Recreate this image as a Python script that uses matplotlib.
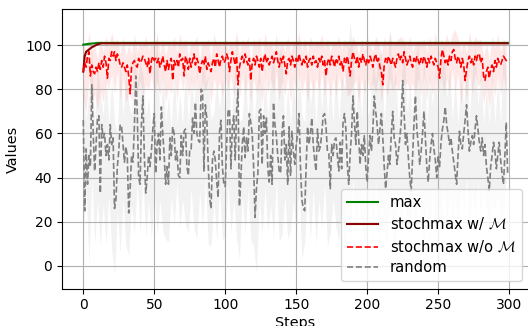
import matplotlib
matplotlib.use("Agg")
import matplotlib.pyplot as plt
import numpy as np

N_STEPS = 300
BAND_EVERY = 2

MAX_HEAD = [100.2, 100.3, 100.4, 100.5, 100.6, 100.6, 100.7, 100.8, 100.8, 100.9]
MAX_PLATEAU = 101.0

WITH_MEM_HEAD = [88, 95, 97, 97.5, 98, 98.5, 99, 99.3, 99.7, 100, 100.3, 100.5, 100.7]
WITH_MEM_PLATEAU = 100.8

WITHOUT_MEM = [
    88, 92, 90, 95, 97, 86, 91, 88, 87, 90, 88, 92, 89, 93, 90, 95, 92, 85, 94, 93,
    97, 95, 97, 93, 96, 94, 91, 90, 92, 90, 88, 91, 86, 78, 90, 92, 93, 91, 90, 94,
    92, 93, 95, 94, 92, 90, 94, 87, 93, 95, 93, 94, 92, 94, 90, 92, 95, 91, 88, 93,
    89, 92, 94, 84, 93, 91, 93, 90, 96, 93, 94, 86, 95, 93, 89, 94, 90, 93, 96, 91,
    94, 92, 87, 91, 93, 91, 95, 89, 92, 90, 88, 92, 94, 90, 96, 93, 90, 94, 95, 92,
    93, 96, 94, 88, 93, 97, 94, 91, 95, 82, 90, 93, 95, 92, 96, 93, 91, 94, 84, 92,
    94, 91, 95, 93, 90, 94, 88, 93, 96, 92, 94, 91, 93, 95, 92, 94, 97, 93, 90, 94,
    92, 95, 91, 87, 93, 94, 91, 95, 93, 90, 94, 92, 96, 93, 91, 94, 92, 95, 90, 93,
    94, 91, 95, 92, 93, 90, 94, 92, 95, 91, 93, 86, 92, 94, 91, 95, 93, 90, 94, 92,
    95, 91, 93, 88, 94, 92, 95, 91, 86, 93, 97, 94, 92, 95, 90, 94, 92, 96, 93, 91,
    94, 92, 95, 93, 90, 94, 96, 92, 94, 90, 88, 82, 91, 94, 92, 95, 93, 91, 94, 92,
    90, 94, 96, 93, 95, 92, 97, 94, 91, 93, 95, 92, 90, 94, 92, 95, 93, 91, 94, 92,
    95, 93, 90, 94, 92, 95, 93, 91, 94, 92, 90, 85, 94, 98, 95, 92, 94, 91, 95, 93,
    97, 98, 94, 92, 95, 93, 90, 94, 91, 84, 89, 93, 95, 92, 94, 91, 95, 93, 96, 96,
    92, 94, 86, 84, 88, 90, 85, 89, 91, 88, 93, 90, 94, 92, 91, 93, 95, 94, 93, 92,
]
WITHOUT_MEM_LO = [
    76, 70, 85, 73, 78, 71, 79, 74, 84, 80, 87, 78, 88, 75, 85, 74, 78, 75, 86, 78,
    84, 77, 82, 80, 86, 77, 84, 77, 86, 74, 81, 78, 86, 75, 87, 79, 87, 76, 84, 79,
    86, 74, 84, 79, 85, 73, 85, 80, 83, 77, 85, 80, 86, 77, 87, 76, 86, 78, 84, 74,
    85, 78, 83, 73, 87, 78, 85, 78, 87, 75, 84, 77, 86, 74, 85, 78, 87, 78, 85, 74,
    85, 78, 85, 80, 87, 77, 85, 76, 85, 77, 86, 79, 87, 77, 78, 82, 84, 74, 85, 78,
    86, 79, 83, 78, 86, 74, 84, 76, 85, 79, 83, 79, 86, 82, 83, 79, 83, 78, 85, 77,
    86, 75, 85, 77, 86, 76, 86, 78, 85, 79, 89, 79, 87, 73, 84, 75, 86, 78, 87, 81,
    84, 73, 81, 71, 83, 77, 86, 77, 86, 78,
]
WITHOUT_MEM_HI = [
    102, 96, 106, 97, 100, 94, 103, 97, 104, 99, 106, 101, 103, 96, 104, 95, 100, 96, 105, 97,
    102, 100, 104, 98, 101, 99, 105, 96, 103, 95, 101, 99, 104, 97, 105, 100, 103, 95, 102, 101,
    104, 94, 102, 100, 103, 94, 105, 100, 101, 99, 104, 98, 102, 99, 106, 96, 103, 100, 104, 92,
    103, 100, 104, 94, 106, 99, 102, 97, 105, 96, 102, 97, 104, 96, 102, 100, 106, 97, 103, 96,
    104, 99, 102, 100, 105, 98, 103, 97, 102, 100, 104, 98, 103, 100, 99, 104, 101, 96, 103, 98,
    104, 100, 97, 104, 101, 95, 104, 98, 106, 99, 101, 103, 104, 102, 99, 104, 97, 101, 102, 100,
    103, 97, 104, 99, 106, 96, 103, 100, 105, 100, 105, 107, 103, 97, 102, 96, 106, 100, 104, 102,
    103, 94, 101, 93, 104, 99, 105, 97, 103, 100,
]

RANDOM = [
    66, 25, 53, 37, 50, 45, 82, 60, 43, 55, 67, 68, 33, 64, 58, 60, 50, 55, 48, 64,
    55, 58, 26, 30, 45, 52, 64, 63, 55, 47, 54, 50, 24, 35, 50, 47, 63, 86, 70, 40,
    37, 65, 77, 50, 33, 40, 50, 45, 52, 62, 69, 42, 55, 60, 48, 72, 60, 50, 37, 45,
    37, 58, 50, 63, 60, 48, 52, 41, 40, 59, 50, 61, 62, 45, 41, 53, 53, 67, 60, 74,
    60, 57, 56, 80, 79, 43, 73, 67, 46, 31, 26, 48, 52, 48, 38, 31, 61, 66, 45, 37,
    36, 55, 70, 71, 44, 63, 68, 48, 70, 80, 27, 40, 55, 63, 49, 58, 52, 69, 65, 60,
    45, 22, 35, 42, 70, 71, 46, 68, 60, 67, 44, 38, 50, 37, 74, 64, 59, 50, 43, 42,
    60, 68, 48, 55, 37, 63, 41, 61, 52, 46, 55, 60, 69, 45, 30, 26, 25, 45, 63, 55,
    60, 67, 55, 48, 43, 62, 52, 54, 60, 68, 69, 63, 52, 51, 35, 55, 50, 57, 58, 50,
    43, 56, 44, 65, 69, 62, 46, 37, 51, 60, 77, 65, 55, 70, 58, 46, 55, 50, 59, 45,
    38, 50, 59, 52, 62, 77, 70, 64, 55, 62, 69, 58, 45, 35, 42, 50, 46, 60, 70, 58,
    55, 46, 52, 58, 65, 84, 70, 55, 60, 49, 40, 34, 50, 65, 77, 62, 55, 46, 52, 60,
    70, 58, 45, 38, 48, 55, 60, 53, 48, 40, 50, 45, 56, 62, 66, 72, 64, 60, 55, 58,
    52, 47, 42, 37, 50, 61, 55, 53, 60, 66, 73, 62, 52, 56, 59, 55, 62, 68, 62, 56,
    52, 58, 50, 55, 45, 40, 34, 45, 50, 56, 52, 44, 50, 56, 48, 42, 37, 50, 65, 41,
]
RANDOM_LO = [
    14, 35, 0, 40, 10, 30, 9, 28, 10, 32, 8, -4.5, 25, 6, 30, 9, 5, 28, 14, 38,
    15, 40, 13, 30, 12, 36, 14, 30, 16, 12, 11, 32, 18, 38, 17, 30, 19, 15, 35, 17,
    12, 34, 17, 40, 10, 9, 30, 11, 36, 12, 13, 38, 15, 30, 12, 3, 32, 14, 35, 12,
    9, -3.5, 30, 14, 36, 16, 28, 13, 40, 11, 14, 32, 12, 16, 30, 13, 36, 3, 11, 34,
    12, 35, 10, 30, 17, 38, 9, 15, 30, 18, 11, 32, 9, 30, 16, 40, 14, 32, 17, 11,
    15, 36, 13, 38, 12, 30, 14, 11, 32, 13, 10, 34, 12, 36, 14, 17, 30, 13, 35, 16,
    12, 30, 10, 36, 13, 30, 15, 38, 18, 32, 20, 30, 18, 36, 26, 40, 19, 35, 23, 38,
    24, 36, 26, 19, 30, 25, 34, 22, 24, 40,
]
RANDOM_HI = [
    88, 65, 80, 100, 63, 92, 78, 68, 88, 64, 85, 66, 60, 94, 67, 88, 74, 68, 98, 82,
    92, 87, 68, 76, 62, 87, 106, 62, 90, 65, 77, 62, 90, 64, 78, 64, 92, 63, 87, 72,
    90, 66, 98, 83, 86, 66, 70, 83, 71, 85, 66, 96, 64, 82, 104, 65, 67, 89, 66, 95,
    63, 80, 92, 62, 90, 66, 86, 98, 69, 104, 94, 62, 82, 63, 86, 65, 90, 68, 65, 93,
    72, 86, 63, 92, 70, 94, 66, 83, 64, 90, 65, 86, 81, 96, 110.4, 96, 67, 88, 67, 88,
    68, 71, 94, 84, 94, 98, 65, 84, 108, 80, 88, 64, 86, 102, 70, 82, 66, 96, 100, 66,
    98, 63, 88, 72, 90, 64, 96, 100, 76, 90, 66, 84, 64, 86, 72, 98, 66, 88, 100, 72,
    90, 64, 82, 64, 88, 64, 86, 64, 103, 85,
]


def padded(head, plateau, n):
    # the curve sits flat at the plateau once it has converged
    return np.array(head + [plateau] * (n - len(head)))


def main() -> None:
    plt.rcParams.update({
        "font.family": "DejaVu Sans",
        "font.size": 10,
        "axes.labelsize": 10.4,
        "mathtext.fontset": "cm",
    })

    steps = np.arange(N_STEPS)
    band_steps = steps[::BAND_EVERY]

    fig = plt.figure(figsize=(5.28, 3.26), dpi=100)
    ax = fig.add_axes([0.1174, 0.1144, 0.8845, 0.857])

    ax.plot(steps, padded(MAX_HEAD, MAX_PLATEAU, N_STEPS), color="green", lw=1.5, label="max")
    ax.plot(steps, padded(WITH_MEM_HEAD, WITH_MEM_PLATEAU, N_STEPS), color="darkred", lw=1.5,
            label=r"stochmax w/ $\mathcal{M}$")

    ax.plot(steps, WITHOUT_MEM, color="red", ls="--", lw=1.2, label=r"stochmax w/o $\mathcal{M}$")
    ax.fill_between(band_steps, WITHOUT_MEM_LO, WITHOUT_MEM_HI, color="red", alpha=0.09, lw=0)

    ax.plot(steps, RANDOM, color="gray", ls="--", lw=1.2, label="random")
    ax.fill_between(band_steps, RANDOM_LO, RANDOM_HI, color="gray", alpha=0.1, lw=0)

    ax.set_xlim(-15, 314)
    ax.set_ylim(-10.3, 116.2)
    ax.set_xticks([0, 50, 100, 150, 200, 250, 300])
    ax.set_yticks([0, 20, 40, 60, 80, 100])
    ax.grid(True)
    ax.set_xlabel("Steps", labelpad=2.5)
    ax.set_ylabel("Values")
    ax.legend(loc="lower right", fontsize=10.6, labelspacing=0.38, handlelength=2.1)

    fig.savefig("out.png", dpi=100)


if __name__ == "__main__":
    main()
